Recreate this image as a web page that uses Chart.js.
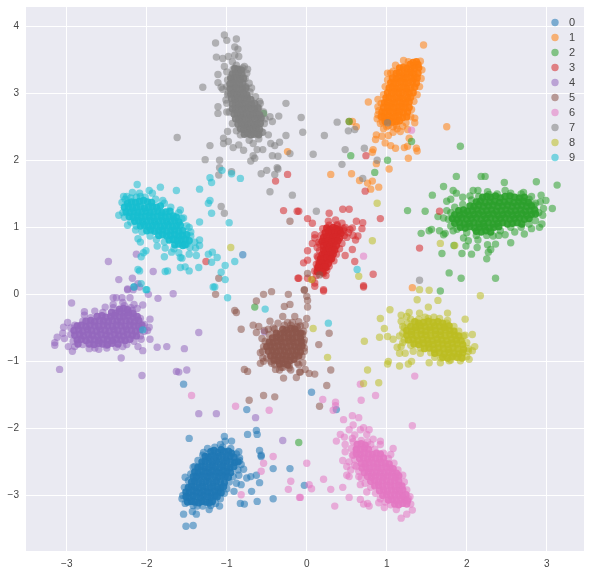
<!DOCTYPE html>
<html>
<head>
<meta charset="utf-8">
<style>
  html, body { margin: 0; padding: 0; background: #fff; }
  canvas { display: block; }
</style>
<script src="https://cdn.jsdelivr.net/npm/chart.js@4/dist/chart.umd.min.js"></script>
</head>
<body>
<canvas id="chart" width="590" height="575"></canvas>
<script>
const labels = ["0", "1", "2", "3", "4", "5", "6", "7", "8", "9"];
const xTicks = [-3, -2, -1, 0, 1, 2, 3];
const yTicks = [-3, -2, -1, 0, 1, 2, 3, 4];

// spreadN: the loose points around each blob, coreN: the saturated middle of it
const spread0 = [
[-1.54,-1.34],[-.75,-1.72],[-.63,-2.03],[-.62,-2.09],[-.74,-2.09],[-1.47,-2.15],[-1.03,-2.12],[-.94,-2.19],[-1.08,-2.24],[-1.02,-2.19],[-.59,-2.33],[-.57,-2.40],[-.57,-2.42],[-.85,-2.35],[-.84,-2.48],[-.42,-2.6],[-.21,-2.6],[-.79,-2.61],[-.63,-2.70],[-.70,-2.72],[-.75,-2.74],[-.59,-2.81],[-.85,-2.70],[-.82,-2.84],[-.88,-2.82],[-.69,-2.94],[-.91,-2.94],[-.42,-3.05],[-.62,-3.09],[-.83,-3.12],[-.78,-3.13],[-1.52,-2.73],[-1.40,-2.57],[-1.29,-2.36],[-1.56,-3.05],[-1.54,-3.28],[-1.38,-3.28],[-1.43,-3.24],[-1.51,-3.46],[-1.42,-3.45],[-1.22,-3.21],[-1.09,-3.16],[-1.37,-3.16],[.06,-1.46],[.37,-1.72],[-.03,-2.85],[-.80,.59],[-2.16,.11],
[-1.24,-2.30],[-1.15,-2.28],[-1.05,-2.28],[-.95,-2.30],[-.88,-2.38],[-.84,-2.44],[-.82,-2.54],[-.86,-2.62],[-.92,-2.72],[-.97,-2.80],[-1.0,-2.90],[-1.03,-2.97],[-1.08,-3.05],[-1.14,-3.12],[-1.20,-3.15],[-1.30,-3.16],[-1.42,-3.15],[-1.52,-3.12],[-1.55,-3.0],[-1.53,-2.88],[-1.48,-2.78],[-1.45,-2.68],[-1.42,-2.58],[-1.36,-2.48],[-1.30,-2.40]
];
const core0 = [
[-1.20,-2.35],[-1.16,-2.33],[-1.11,-2.36],[-1.07,-2.32],[-1.03,-2.35],[-.98,-2.34],[-.94,-2.37],
[-1.27,-2.42],[-1.23,-2.43],[-1.19,-2.41],[-1.14,-2.43],[-1.10,-2.42],[-1.05,-2.41],[-1.01,-2.44],[-.96,-2.42],[-.91,-2.43],
[-1.31,-2.50],[-1.27,-2.49],[-1.22,-2.50],[-1.18,-2.51],[-1.13,-2.49],[-1.09,-2.50],[-1.04,-2.51],[-1.00,-2.49],[-.95,-2.50],[-.90,-2.51],[-.86,-2.50],
[-1.36,-2.58],[-1.32,-2.57],[-1.27,-2.58],[-1.23,-2.59],[-1.18,-2.57],[-1.14,-2.58],[-1.09,-2.59],[-1.05,-2.57],[-1.00,-2.58],[-.96,-2.59],[-.91,-2.57],
[-1.40,-2.65],[-1.36,-2.66],[-1.31,-2.64],[-1.27,-2.65],[-1.22,-2.66],[-1.18,-2.64],[-1.13,-2.65],[-1.09,-2.66],[-1.04,-2.64],[-1.00,-2.65],[-.95,-2.66],
[-1.42,-2.72],[-1.38,-2.73],[-1.33,-2.71],[-1.29,-2.72],[-1.24,-2.73],[-1.20,-2.71],[-1.15,-2.72],[-1.11,-2.73],[-1.06,-2.71],[-1.02,-2.72],[-.98,-2.73],
[-1.44,-2.80],[-1.40,-2.79],[-1.35,-2.80],[-1.31,-2.81],[-1.26,-2.79],[-1.22,-2.80],[-1.17,-2.81],[-1.13,-2.79],[-1.08,-2.80],[-1.03,-2.81],
[-1.48,-2.88],[-1.44,-2.87],[-1.39,-2.88],[-1.35,-2.89],[-1.30,-2.87],[-1.26,-2.88],[-1.21,-2.89],[-1.17,-2.87],[-1.12,-2.88],[-1.08,-2.89],[-1.04,-2.87],
[-1.51,-2.95],[-1.47,-2.96],[-1.42,-2.94],[-1.38,-2.95],[-1.33,-2.96],[-1.29,-2.94],[-1.24,-2.95],[-1.20,-2.96],[-1.15,-2.94],[-1.11,-2.95],[-1.07,-2.96],
[-1.51,-3.02],[-1.47,-3.03],[-1.42,-3.01],[-1.38,-3.02],[-1.33,-3.03],[-1.29,-3.01],[-1.24,-3.02],[-1.20,-3.03],[-1.15,-3.01],[-1.12,-3.02],
[-1.49,-3.10],[-1.44,-3.09],[-1.40,-3.10],[-1.35,-3.11],[-1.31,-3.09],[-1.26,-3.10],[-1.22,-3.11],[-1.18,-3.09]
];
const spread1 = [
[1.46,3.72],[1.21,3.49],[1.42,3.48],[1.01,3.30],[1.08,3.33],[.77,2.87],[.89,2.91],[.89,2.80],[.89,2.68],[1.35,2.63],[1.35,2.56],[.53,2.58],[.57,2.58],[.62,2.50],[1.75,2.50],[.87,2.38],[.86,2.31],[.94,2.36],[1.02,2.37],[.96,2.47],[1.08,2.42],[1.17,2.43],[1.26,2.46],[1.20,2.51],[1.28,2.33],[.98,2.26],[1.05,2.22],[1.11,2.18],[1.22,2.19],[1.26,2.21],[1.37,2.18],[1.38,2.14],[1.27,2.03],[.83,2.16],[.82,2.12],[.87,1.95],[1.03,1.87],[.30,1.79],[.56,1.80],[.66,1.70],[.76,1.66],[.82,1.69],[.90,1.60],[.80,1.57],[1.32,.10],[-.24,2.13],[1.02,2.52],[1.08,2.50],[1.13,2.47],[.95,2.57],
[1.27,3.47],[1.11,3.42],[1.05,3.30],[1.01,3.20],[.98,3.10],[.96,2.98],[.93,2.85],[.90,2.74],[.88,2.62],[.92,2.55],[1.44,3.35],[1.43,3.22],[1.41,3.10],[1.38,2.98],[1.34,2.88],[1.31,2.76],[1.30,2.65],[1.24,2.56],[1.12,2.52],[1.0,2.50]
];
const core1 = [
[1.33,3.46],[1.37,3.47],[1.29,3.43],[1.34,3.41],[1.39,3.43],
[1.16,3.38],[1.21,3.39],[1.25,3.37],[1.30,3.36],[1.35,3.37],[1.40,3.38],
[1.12,3.30],[1.16,3.31],[1.21,3.29],[1.25,3.30],[1.30,3.31],[1.34,3.29],[1.39,3.30],
[1.07,3.23],[1.12,3.22],[1.16,3.24],[1.21,3.22],[1.25,3.23],[1.30,3.24],[1.34,3.22],[1.38,3.23],
[1.05,3.16],[1.09,3.15],[1.14,3.16],[1.18,3.17],[1.23,3.15],[1.27,3.16],[1.32,3.17],[1.37,3.15],
[1.03,3.08],[1.07,3.09],[1.12,3.07],[1.16,3.08],[1.21,3.09],[1.25,3.07],[1.30,3.08],[1.35,3.09],
[1.01,3.01],[1.06,3.00],[1.10,3.02],[1.15,3.00],[1.19,3.01],[1.24,3.02],[1.28,3.00],[1.33,3.01],
[.99,2.93],[1.03,2.94],[1.08,2.92],[1.12,2.93],[1.17,2.94],[1.21,2.92],[1.26,2.93],[1.30,2.94],
[.97,2.86],[1.01,2.87],[1.06,2.85],[1.10,2.86],[1.15,2.87],[1.19,2.85],[1.24,2.86],[1.28,2.87],
[.96,2.79],[1.01,2.78],[1.05,2.80],[1.10,2.78],[1.14,2.79],[1.19,2.80],[1.23,2.78],[1.28,2.79],
[.94,2.72],[.98,2.71],[1.03,2.73],[1.07,2.71],[1.12,2.72],[1.16,2.73],[1.21,2.71],[1.26,2.72],
[.93,2.65],[.97,2.64],[1.02,2.66],[1.06,2.64],[1.11,2.65],[1.15,2.66],[1.20,2.64],[1.25,2.65],
[.98,2.58],[1.03,2.59],[1.07,2.57],[1.12,2.58],[1.16,2.59]
];
const spread2 = [
[1.92,2.21],[1.31,2.28],[.55,2.07],[1.01,2.0],[.85,1.82],[.53,2.58],[1.87,1.76],[2.18,1.76],[2.23,1.76],[2.47,1.67],[2.87,1.68],[3.13,1.63],[1.71,1.61],[1.57,1.48],[1.83,1.55],[1.87,1.51],[2.08,1.55],[2.14,1.55],[2.26,1.53],[2.48,1.55],[2.71,1.52],[2.81,1.46],[2.93,1.48],[2.99,1.40],[3.07,1.28],[1.75,1.39],[1.26,1.25],[1.48,1.24],[1.64,1.16],[1.71,1.14],[1.75,1.25],[2.96,1.28],[2.95,1.18],[2.94,1.05],[2.91,1.0],[2.81,.98],[1.43,.91],[1.53,.95],[1.56,.97],[1.66,.95],[1.71,.89],[1.73,.91],[1.83,.95],[1.96,.84],[2.02,.80],[2.14,.81],[2.33,.87],[2.36,.75],[2.48,.89],[2.55,.77],[1.99,.72],[2.13,.70],[2.26,.74],[2.30,.67],[1.84,.73],[1.69,.61],[1.94,.61],[2.06,.60],[2.27,.63],[2.25,.53],[1.78,.32],[1.93,.24],[2.36,.24],[1.67,.05],[-.54,2.70],[-.65,-.19],[-.10,-2.21],[1.80,1.42],[1.95,1.45],[2.04,1.47],[2.92,1.38],[2.86,1.36],[2.40,.88],[2.60,.93],[2.72,.90],
[2.15,1.46],[2.06,1.41],[1.95,1.34],[1.85,1.30],[1.80,1.22],[1.77,1.12],[1.80,1.02],[1.88,.97],[2.0,.92],[2.12,.88],[2.25,.88],[2.42,.95],[2.55,1.0],[2.68,1.0],[2.78,1.05],[2.86,1.10],[2.90,1.22],[2.84,1.33],[2.78,1.42],[2.68,1.50],[2.55,1.51],[2.38,1.50],[2.28,1.49]
];
const core2 = [
[2.20,1.45],[2.25,1.46],[2.30,1.45],[2.36,1.47],[2.42,1.44],[2.48,1.46],[2.54,1.47],[2.60,1.45],[2.66,1.44],[2.72,1.45],
[2.12,1.38],[2.17,1.39],[2.23,1.37],[2.29,1.38],[2.35,1.39],[2.41,1.37],[2.47,1.38],[2.53,1.39],[2.59,1.37],[2.65,1.38],[2.71,1.39],[2.77,1.37],
[2.04,1.32],[2.09,1.31],[2.15,1.33],[2.21,1.31],[2.27,1.32],[2.33,1.33],[2.39,1.31],[2.45,1.32],[2.51,1.33],[2.57,1.31],[2.63,1.32],[2.69,1.33],[2.75,1.31],[2.81,1.32],
[1.90,1.25],[1.96,1.26],[2.01,1.24],[2.07,1.25],[2.13,1.26],[2.19,1.24],[2.25,1.25],[2.31,1.26],[2.37,1.24],[2.43,1.25],[2.49,1.26],[2.55,1.24],[2.61,1.25],[2.67,1.26],[2.73,1.24],[2.79,1.25],[2.85,1.26],
[1.85,1.19],[1.91,1.18],[1.97,1.20],[2.03,1.18],[2.09,1.19],[2.15,1.20],[2.21,1.18],[2.27,1.19],[2.33,1.20],[2.39,1.18],[2.45,1.19],[2.51,1.20],[2.57,1.18],[2.63,1.19],[2.69,1.20],[2.75,1.18],[2.81,1.19],[2.86,1.20],
[1.82,1.13],[1.88,1.12],[1.94,1.14],[2.00,1.12],[2.06,1.13],[2.12,1.14],[2.18,1.12],[2.24,1.13],[2.30,1.14],[2.36,1.12],[2.42,1.13],[2.48,1.14],[2.54,1.12],[2.60,1.13],[2.66,1.14],[2.72,1.12],[2.78,1.13],
[1.85,1.06],[1.91,1.07],[1.97,1.05],[2.03,1.06],[2.09,1.07],[2.15,1.05],[2.21,1.06],[2.27,1.07],[2.33,1.05],[2.39,1.06],[2.45,1.07],[2.51,1.05],[2.57,1.06],[2.63,1.07],[2.69,1.05],
[1.92,1.00],[1.98,.99],[2.04,1.01],[2.10,.99],[2.16,1.00],[2.22,1.01],[2.28,.99],[2.34,1.00],[2.40,1.01],
[2.12,.94],[2.18,.93],[2.24,.95],[2.30,.93]
];
const spread3 = [
[.45,1.27],[.53,1.27],[.28,1.21],[.01,1.13],[.07,1.06],[-.1,1.24],[.27,1.09],[.36,1.11],[.44,1.06],[.62,1.09],[.70,1.07],[.69,.98],[.57,.99],[.48,1.0],[.64,.87],[.61,.81],[.58,.88],[.5,.85],[.10,.89],[.10,.84],[.07,.76],[.01,.65],[.57,.67],[.48,.58],[.60,.49],[.13,.57],[.01,.51],[-.04,.47],[.15,.47],[.14,.41],[.21,.31],[-.1,.24],[.01,.24],[.07,.22],[.10,.17],[.21,.07],[.83,.30],[.71,.13],[.92,1.13],[.73,1.54],[.74,2.07],[1.66,1.24],[1.41,.69],[.10,.12],[.21,.05],[.71,.11],[-.24,1.79],[-.39,1.69],[-.29,1.25],[-.12,1.24],[-1.26,.49],[-.11,.24],[.38,1.02],[.46,.95],[.52,.92],[.54,.97],[.16,.75],[.13,.70],
[.20,.98],[.18,.88],[.15,.78],[.16,.65],[.14,.55],[.12,.45],[.10,.35],[.12,.28],[.24,.28],[.25,.36],[.28,.42],[.34,.50],[.37,.60],[.41,.68],[.44,.76],[.47,.88],[.46,.98],[.38,1.04],[.28,1.03]
];
const core3 = [
[.25,.99],[.29,.97],[.33,1.0],[.37,.98],[.41,.96],
[.23,.92],[.27,.93],[.31,.91],[.35,.92],[.39,.93],[.43,.91],
[.21,.85],[.25,.86],[.29,.84],[.33,.85],[.37,.86],[.41,.84],
[.19,.79],[.23,.78],[.27,.80],[.31,.78],[.35,.79],[.39,.80],
[.21,.72],[.25,.73],[.29,.71],[.33,.72],[.37,.73],
[.21,.66],[.24,.65],[.28,.67],[.32,.65],[.35,.66],
[.19,.59],[.22,.60],[.26,.58],[.30,.59],[.33,.60],
[.17,.53],[.21,.52],[.25,.54],[.29,.52],[.31,.53],
[.16,.46],[.19,.47],[.23,.45],[.27,.46],
[.14,.40],[.18,.39],[.22,.41],[.24,.40],
[.13,.34],[.17,.35],[.20,.33]
];
const spread4 = [
[-2.94,-.13],[-3.09,-1.12],[-3.15,-.72],[-3.15,-.76],[-3.12,-.64],[-3.04,-.49],[-3.05,-.58],[-3.03,-.66],[-2.99,-.42],[-2.98,-.78],[-2.93,-.85],[-2.72,-.81],[-2.78,-.26],[-2.78,-.31],[-2.65,-.25],[-2.52,-.19],[-2.42,-.05],[-2.38,-.05],[-2.31,-.05],[-2.24,.07],[-2.21,-.05],[-2.17,.07],[-2.09,.11],[-1.98,0],[-1.86,-.06],[-1.67,.01],[-2.16,-.15],[-2.05,-.16],[-2.12,-.21],[-1.96,-.37],[-1.97,-.49],[-1.99,-.54],[-1.96,-.67],[-2.11,-.78],[-2.05,-.84],[-2.07,-.67],[-1.87,-.79],[-1.75,-.78],[-1.53,-.81],[-1.35,-.57],[-2.32,-.95],[-2.06,-1.21],[-1.63,-1.15],[-1.60,-1.16],[-1.50,-1.13],[-1.35,-1.78],[-1.13,-1.78],[-.64,-1.84],[-.30,-2.18],[-.53,-.56],[-2.48,.49],[-2.35,.22],[-2.18,.24],[-2.13,.60],[-1.92,.34],[-2.24,.08],[-2.11,.16],[-2.60,-.82],[-2.50,-.80],[-2.30,-.78],[-2.42,-.15],[-2.30,-.12],[-2.20,-.20],
[-2.95,-.50],[-2.95,-.60],[-2.92,-.70],[-2.90,-.46],[-2.80,-.40],[-2.70,-.35],[-2.55,-.27],[-2.42,-.20],[-2.28,-.17],[-2.18,-.24],[-2.08,-.36],[-2.03,-.45],[-2.03,-.55],[-2.08,-.62],[-2.16,-.70],[-2.25,-.75],[-2.38,-.79],[-2.50,-.76],[-2.65,-.80],[-2.80,-.75],[-2.90,-.78]
];
const core4 = [
[-2.34,-.22],[-2.29,-.21],[-2.24,-.23],[-2.44,-.27],[-2.39,-.28],[-2.34,-.26],[-2.28,-.28],[-2.23,-.27],[-2.17,-.29],
[-2.62,-.33],[-2.56,-.32],[-2.51,-.34],[-2.45,-.33],[-2.40,-.32],[-2.34,-.34],[-2.29,-.33],[-2.23,-.32],[-2.17,-.34],[-2.12,-.33],
[-2.76,-.40],[-2.70,-.39],[-2.65,-.41],[-2.59,-.39],[-2.54,-.40],[-2.48,-.41],[-2.43,-.39],[-2.37,-.40],[-2.32,-.41],[-2.26,-.39],[-2.21,-.40],[-2.15,-.41],[-2.10,-.39],
[-2.87,-.47],[-2.82,-.46],[-2.76,-.48],[-2.71,-.46],[-2.65,-.47],[-2.60,-.48],[-2.54,-.46],[-2.49,-.47],[-2.43,-.48],[-2.38,-.46],[-2.32,-.47],[-2.27,-.48],[-2.21,-.46],[-2.16,-.47],[-2.10,-.48],[-2.06,-.46],
[-2.91,-.54],[-2.85,-.53],[-2.80,-.55],[-2.74,-.53],[-2.69,-.54],[-2.63,-.55],[-2.58,-.53],[-2.52,-.54],[-2.47,-.55],[-2.41,-.53],[-2.36,-.54],[-2.30,-.55],[-2.25,-.53],[-2.19,-.54],[-2.14,-.55],[-2.08,-.53],
[-2.90,-.61],[-2.84,-.60],[-2.79,-.62],[-2.73,-.60],[-2.68,-.61],[-2.62,-.62],[-2.57,-.60],[-2.51,-.61],[-2.46,-.62],[-2.40,-.60],[-2.35,-.61],[-2.29,-.62],[-2.24,-.60],[-2.18,-.61],[-2.13,-.62],
[-2.87,-.68],[-2.82,-.67],[-2.76,-.69],[-2.71,-.67],[-2.65,-.68],[-2.60,-.69],[-2.54,-.67],[-2.49,-.68],[-2.43,-.69],[-2.38,-.67],[-2.32,-.68],[-2.27,-.69],[-2.21,-.67],
[-2.86,-.74],[-2.72,-.74],[-2.66,-.75],[-2.60,-.73],[-2.55,-.74],[-2.49,-.75],[-2.43,-.73],[-2.36,-.74]
];
const spread5 = [
[-.44,.04],[-.54,0],[-.23,0],[-.63,-.10],[-.28,-.18],[-.21,-.15],[-.90,-.24],[-.88,-.27],[-.82,-.52],[-1.14,0],[-.67,-.46],[-.60,-.48],[-.63,-.57],[-.53,-.54],[-.46,-.40],[-.30,-.33],[-.15,-.33],[-.36,-.43],[-.78,-1.12],[-.74,-1.15],[-.58,-1.03],[-.54,-1.0],[-.29,-1.25],[-.13,-1.24],[-.08,-1.16],[-.20,-1.13],[-.39,-1.12],[-.34,-1.13],[-.72,-1.58],[-.54,-1.51],[-.40,-1.53],[-.03,.06],[0,-.03],[.01,-.09],[.01,-.19],[0,-.36],[-.02,-.46],[.28,-.58],[.15,-.75],[-.04,-.72],[.30,-1.13],[.1,-1.19],[.03,-1.18],[-.02,-1.12],[-.05,-1.02],[.25,-1.36],[.16,-1.67],[-.10,-.41],[-.09,-1.16],[.01,.31],[-.03,.07],[.16,.29],[-.21,1.09],[-1.10,.24],[-.56,-.66],[-.54,-.78],[-.58,-.87],[-.55,-.95],[-.04,-.55],[-.03,-.85],[-.05,-.60],[-.08,-.47],[-.24,-.42],[-.18,-.42],[-.42,-.50],[-.48,-.52],[-.10,-1.05],[-.22,-1.06],[-.30,-1.09],[-.44,-1.03],
[-.28,-.46],[-.20,-.46],[-.12,-.48],[-.40,-.52],[-.47,-.60],[-.52,-.70],[-.55,-.85],[-.50,-.95],[-.45,-1.0],[-.40,-1.05],[-.32,-1.09],[-.22,-1.10],[-.12,-1.02],[-.06,-.92],[-.03,-.80],[-.03,-.68],[-.06,-.58],[-.12,-.50]
];
const core5 = [
[-.30,-.52],[-.25,-.53],[-.20,-.51],[-.15,-.52],
[-.38,-.58],[-.33,-.59],[-.28,-.57],[-.23,-.58],[-.18,-.59],[-.13,-.57],[-.08,-.58],
[-.43,-.65],[-.38,-.64],[-.33,-.66],[-.28,-.64],[-.23,-.65],[-.18,-.66],[-.13,-.64],[-.08,-.65],
[-.47,-.71],[-.42,-.72],[-.37,-.70],[-.32,-.71],[-.27,-.72],[-.22,-.70],[-.17,-.71],[-.12,-.72],[-.07,-.70],
[-.50,-.78],[-.45,-.77],[-.40,-.79],[-.35,-.77],[-.30,-.78],[-.25,-.79],[-.20,-.77],[-.15,-.78],[-.10,-.79],[-.06,-.77],
[-.48,-.85],[-.43,-.84],[-.38,-.86],[-.33,-.84],[-.28,-.85],[-.23,-.86],[-.18,-.84],[-.13,-.85],[-.08,-.86],
[-.45,-.92],[-.40,-.91],[-.35,-.93],[-.30,-.91],[-.25,-.92],[-.20,-.93],[-.15,-.91],[-.10,-.92],
[-.41,-.98],[-.36,-.99],[-.31,-.97],[-.26,-.98],[-.21,-.99],[-.16,-.97],
[-.34,-1.04],[-.29,-1.03],[-.24,-1.05]
];
const spread6 = [
[1.35,-1.22],[.67,-1.34],[.86,-1.51],[.68,-1.58],[.20,-1.57],[.36,-1.61],[.36,-1.66],[.33,-1.73],[.57,-1.81],[.65,-1.84],[.46,-1.87],[1.32,-1.96],[.58,-1.95],[.71,-1.99],[.78,-2.02],[.53,-2.02],[.67,-2.02],[.42,-2.09],[.47,-2.13],[.60,-2.10],[.75,-2.09],[.37,-2.19],[.57,-2.15],[.83,-2.16],[.92,-2.19],[.92,-2.24],[.48,-2.24],[.48,-2.35],[1.08,-2.30],[1.05,-2.39],[.45,-2.48],[.50,-2.57],[.53,-2.50],[.50,-2.70],[.53,-2.72],[.67,-2.84],[.45,-2.88],[.21,-2.76],[.30,-2.91],[0,-2.52],[.03,-2.84],[.06,-2.90],[-.08,-3.03],[.53,-3.03],[.67,-3.06],[.71,-3.13],[.76,-3.12],[.78,-3.16],[.90,-3.11],[.35,-3.16],[.97,-3.18],[1.12,-3.21],[1.25,-3.28],[1.32,-3.22],[1.18,-3.34],[.75,-2.95],[1.27,-3.05],[-1.44,-1.51],[-.89,-1.67],[-.47,-1.73],[-.42,-2.42],[-.54,-2.52],[-.57,-2.64],[-.2,-2.79],[-.23,-2.91],[-.09,-3.03],[-.82,-2.99],[1.31,2.45],[.71,.57],[.58,-2.40],[.60,-2.55],[.55,-2.62],[.62,-2.32],[.65,-2.72],
[.58,-2.20],[.68,-2.18],[.76,-2.20],[.56,-2.30],[.57,-2.40],[.60,-2.47],[.62,-2.57],[.65,-2.64],[.68,-2.74],[.73,-2.82],[.80,-2.88],[.86,-2.97],[.92,-3.05],[.98,-3.10],[1.05,-3.14],[1.30,-3.13],[1.29,-3.02],[1.25,-2.92],[1.22,-2.80],[1.20,-2.70],[1.14,-2.62],[1.09,-2.52],[1.02,-2.45],[.96,-2.37],[.85,-2.31],[.80,-2.24]
];
const core6 = [
[.63,-2.24],[.68,-2.23],[.73,-2.25],[.62,-2.31],[.67,-2.32],[.72,-2.30],[.77,-2.31],
[.62,-2.38],[.67,-2.39],[.72,-2.37],[.77,-2.38],[.82,-2.39],[.87,-2.37],[.92,-2.38],
[.66,-2.45],[.71,-2.44],[.76,-2.46],[.81,-2.44],[.86,-2.45],[.91,-2.46],[.96,-2.44],
[.68,-2.52],[.73,-2.53],[.78,-2.51],[.83,-2.52],[.88,-2.53],[.93,-2.51],[.98,-2.52],[1.03,-2.53],
[.69,-2.59],[.74,-2.58],[.79,-2.60],[.84,-2.58],[.89,-2.59],[.94,-2.60],[.99,-2.58],[1.04,-2.59],[1.08,-2.60],
[.72,-2.66],[.77,-2.65],[.82,-2.67],[.87,-2.65],[.92,-2.66],[.97,-2.67],[1.02,-2.65],[1.07,-2.66],[1.12,-2.67],
[.76,-2.72],[.81,-2.73],[.86,-2.71],[.91,-2.72],[.96,-2.73],[1.01,-2.71],[1.06,-2.72],[1.11,-2.73],[1.15,-2.71],
[.80,-2.79],[.85,-2.78],[.90,-2.80],[.95,-2.78],[1.00,-2.79],[1.05,-2.80],[1.10,-2.78],[1.15,-2.79],
[.85,-2.86],[.90,-2.85],[.95,-2.87],[1.00,-2.85],[1.05,-2.86],[1.10,-2.87],[1.15,-2.85],[1.19,-2.86],
[.91,-2.93],[.96,-2.92],[1.01,-2.94],[1.06,-2.92],[1.11,-2.93],[1.16,-2.94],[1.20,-2.92],
[.95,-3.00],[1.00,-2.99],[1.05,-3.01],[1.10,-2.99],[1.15,-3.00],[1.20,-3.01],[1.24,-2.99],
[1.02,-3.07],[1.07,-3.06],[1.12,-3.08],[1.17,-3.06],[1.22,-3.07],[1.26,-3.08],
[1.10,-3.13],[1.15,-3.14],[1.20,-3.12],[1.25,-3.13]
];
const spread7 = [
[-1.03,3.87],[-.88,3.81],[-1.00,3.79],[-1.14,3.75],[-.90,3.69],[-.86,3.66],[-1.13,3.54],[-1.05,3.52],[-.98,3.55],[-.90,3.57],[-.85,3.55],[-.93,3.47],[-.88,3.42],[-1.03,3.40],[-.78,3.40],[-.74,3.36],[-1.11,3.28],[-1.0,3.32],[-1.11,3.16],[-1.07,3.09],[-1.05,3.06],[-1.30,3.09],[-1.11,2.80],[-1.11,2.70],[-1.0,2.72],[-1.01,2.90],[-.69,3.08],[-.59,2.88],[-.26,2.85],[-.46,2.65],[-.35,2.66],[-.43,2.58],[-.07,2.64],[-.05,2.42],[.22,2.37],[.38,2.57],[.52,2.44],[.6,2.46],[.48,2.16],[.72,2.18],[.08,2.09],[.44,1.94],[.88,2.00],[.7,1.73],[1.01,2.56],[.12,1.24],[1.41,.21],[-1.62,2.34],[-1.21,2.22],[-1.27,2.01],[-1.09,2.00],[-1.09,1.89],[-1.10,1.78],[-.94,1.83],[-.70,1.99],[-.65,2.03],[-.67,2.07],[-.57,1.80],[-.50,1.85],[-.40,1.79],[-.37,1.89],[-.36,1.87],[-.46,1.53],[-.18,1.48],[-1.07,1.31],[-1.03,1.21],[-.43,2.07],[-.36,2.06],[-.21,2.10],[-.26,2.37],[-.34,2.27],[-.40,2.22],[-.45,2.25],[-.62,2.16],[-.55,2.16],[-.79,2.15],[-.92,2.19],[-1.04,2.25],[-1.04,2.33],[-.99,2.43],[-.98,2.28],[-.85,2.23],[-.67,2.25],[-.48,2.38],[-.56,2.42],[-.6,2.78],[-.52,2.62],[-.95,3.24],[-.77,3.22],[-.76,3.10],[-.99,2.98],
[-.99,3.2],[-1.0,3.1],[-.98,3.0],[-1.0,2.85],[-.97,2.72],[-.93,2.55],[-.88,2.44],[-.83,2.38],[-.75,3.30],[-.72,3.15],[-.71,3.02],[-.64,2.95],[-.58,2.85],[-.54,2.72],[-.53,2.55],[-.55,2.42],[-.60,2.32],[-.72,2.30],[-.80,3.38],[-.92,3.36]
];
const core7 = [
[-.90,3.37],[-.86,3.36],[-.82,3.35],
[-.93,3.29],[-.89,3.30],[-.85,3.28],[-.81,3.29],
[-.95,3.22],[-.91,3.21],[-.87,3.23],[-.83,3.21],[-.79,3.22],
[-.96,3.14],[-.92,3.15],[-.88,3.13],[-.84,3.14],[-.80,3.15],
[-.96,3.07],[-.92,3.06],[-.88,3.08],[-.84,3.06],[-.80,3.07],[-.76,3.08],
[-.95,2.99],[-.91,3.00],[-.87,2.98],[-.83,2.99],[-.79,3.00],[-.75,2.98],
[-.94,2.92],[-.90,2.91],[-.86,2.93],[-.82,2.91],[-.78,2.92],[-.74,2.93],[-.70,2.91],
[-.93,2.84],[-.89,2.85],[-.85,2.83],[-.81,2.84],[-.77,2.85],[-.73,2.83],[-.69,2.84],[-.65,2.85],
[-.93,2.77],[-.89,2.76],[-.85,2.78],[-.81,2.76],[-.77,2.77],[-.73,2.78],[-.69,2.76],[-.65,2.77],[-.61,2.78],
[-.91,2.69],[-.87,2.70],[-.83,2.68],[-.79,2.69],[-.75,2.70],[-.71,2.68],[-.67,2.69],[-.63,2.70],[-.59,2.68],
[-.89,2.62],[-.85,2.61],[-.81,2.63],[-.77,2.61],[-.73,2.62],[-.69,2.63],[-.65,2.61],[-.61,2.62],[-.57,2.63],
[-.86,2.54],[-.82,2.55],[-.78,2.53],[-.74,2.54],[-.70,2.55],[-.66,2.53],[-.62,2.54],[-.58,2.55],
[-.83,2.47],[-.79,2.46],[-.75,2.48],[-.71,2.46],[-.67,2.47],[-.63,2.48],[-.59,2.46],
[-.78,2.39],[-.74,2.40],[-.70,2.38],[-.66,2.39],[-.62,2.40],[-.60,2.38]
];
const spread8 = [
[1.41,.07],[1.53,.06],[1.38,-.08],[1.64,-.09],[2.17,-.02],[1.52,-.19],[1.04,-.23],[.92,-.36],[1.18,-.31],[1.28,-.27],[1.41,-.28],[1.76,-.28],[1.25,-.33],[1.48,-.34],[1.59,-.34],[1.76,-.39],[1.98,-.37],[.97,-.51],[.91,-.64],[1.01,-.63],[1.08,-.67],[.72,-.70],[.08,-.51],[1.13,-.79],[1.18,-.78],[1.16,-.88],[1.23,-.88],[1.02,-1.0],[1.01,-1.04],[1.16,-1.07],[1.27,-1.04],[1.31,-1.0],[1.53,-1.02],[1.67,-1.02],[1.78,-.99],[2.03,-.97],[2.07,-.84],[2.10,-.78],[2.07,-.6],[2.02,-.81],[1.98,-.61],[.26,-.94],[.76,-1.13],[.71,-1.33],[.90,-1.32],[.88,1.36],[.82,.80],[.65,.27],[.06,.22],[1.67,.76],[1.85,.73],[-.95,.70],[1.18,-.40],[1.20,-.48],[1.16,-.62],[1.33,-.85],[1.42,-.88],[1.60,-.94],[1.20,-.72],
[1.30,-.37],[1.40,-.37],[1.52,-.36],[1.66,-.36],[1.75,-.43],[1.84,-.48],[1.90,-.55],[1.96,-.62],[2.0,-.72],[2.02,-.85],[2.0,-.93],[1.92,-.99],[1.80,-.98],[1.68,-.95],[1.55,-.87],[1.42,-.80],[1.30,-.76],[1.22,-.68],[1.20,-.58],[1.22,-.50],[1.26,-.43]
];
const core8 = [
[1.35,-.41],[1.40,-.43],[1.46,-.42],[1.52,-.40],[1.58,-.42],[1.64,-.41],[1.70,-.43],
[1.30,-.48],[1.36,-.49],[1.42,-.47],[1.48,-.48],[1.54,-.49],[1.60,-.47],[1.66,-.48],[1.72,-.49],[1.78,-.47],
[1.25,-.54],[1.31,-.55],[1.37,-.53],[1.43,-.54],[1.49,-.55],[1.55,-.53],[1.61,-.54],[1.67,-.55],[1.73,-.53],[1.79,-.54],[1.84,-.55],
[1.25,-.61],[1.31,-.60],[1.37,-.62],[1.43,-.60],[1.49,-.61],[1.55,-.62],[1.61,-.60],[1.67,-.61],[1.73,-.62],[1.79,-.60],[1.85,-.61],[1.90,-.62],
[1.27,-.68],[1.33,-.67],[1.39,-.69],[1.45,-.67],[1.51,-.68],[1.57,-.69],[1.63,-.67],[1.69,-.68],[1.75,-.69],[1.81,-.67],[1.87,-.68],[1.93,-.69],
[1.34,-.74],[1.40,-.75],[1.46,-.73],[1.52,-.74],[1.58,-.75],[1.64,-.73],[1.70,-.74],[1.76,-.75],[1.82,-.73],[1.88,-.74],[1.95,-.75],
[1.47,-.81],[1.53,-.80],[1.59,-.82],[1.65,-.80],[1.71,-.81],[1.77,-.82],[1.83,-.80],[1.89,-.81],[1.96,-.82],
[1.60,-.88],[1.66,-.87],[1.72,-.89],[1.78,-.87],[1.84,-.88],[1.90,-.89],[1.95,-.87],
[1.70,-.94],[1.76,-.95],[1.82,-.93],[1.88,-.94],[1.94,-.95]
];
const spread9 = [
[-2.12,1.64],[-1.97,1.55],[-1.83,1.60],[-1.63,1.55],[-1.34,1.57],[-1.19,1.67],[-1.21,1.74],[-1.06,1.85],[-.94,1.80],[-.83,1.73],[-1.21,1.40],[-1.23,1.36],[-1.19,1.21],[-1.34,1.08],[-.97,1.07],[-1.58,1.26],[-2.35,1.18],[-2.24,1.03],[-2.14,.96],[-2.25,1.46],[-2.18,1.52],[-2.09,1.51],[-1.93,1.51],[-1.54,1.14],[-1.47,1.0],[-1.34,.81],[-1.34,.73],[-1.39,.69],[-1.18,.63],[-1.23,.60],[-1.12,.55],[-1.19,.48],[-1.02,.43],[-.90,.49],[-1.07,.33],[-1.02,.22],[-1.17,.11],[-1.58,.40],[-1.52,.41],[-1.47,.35],[-1.35,.40],[-1.74,.35],[-1.77,.34],[-2.11,.37],[-2.09,.35],[-1.78,.56],[-2.07,.56],[-2.01,.65],[-2.04,.62],[-1.58,.55],[-1.56,.54],[-1.47,.60],[-1.38,.58],[-1.87,.72],[-1.77,.69],[-1.69,.63],[-2.07,.16],[-2.16,.11],[-2.01,.07],[-2.0,.07],[-1.15,.11],[-.99,-.05],[-.52,-.22],[-2.05,-.53],[.27,-.43],[.63,.37],[-2.29,1.46],[-2.02,1.45],[-1.80,1.40],[-2.11,.83],[-2.08,.78],[-1.60,.84],[-1.45,.93],[-1.50,.75],
[-2.31,1.37],[-2.27,1.42],[-2.20,1.44],[-2.13,1.45],[-2.08,1.46],[-1.89,1.42],[-1.78,1.36],[-1.70,1.30],[-1.60,1.22],[-1.56,1.13],[-1.50,1.02],[-1.45,.87],[-1.40,.78],[-1.46,.70],[-2.30,1.22],[-2.28,1.15],[-2.20,1.08],[-2.13,1.02],[-2.06,.93],[-1.96,.87],[-1.88,.82],[-1.78,.78],[-1.66,.68],[-1.60,.62]
];
const core9 = [
[-2.24,1.36],[-2.19,1.38],[-2.14,1.37],[-2.09,1.39],[-2.04,1.40],[-1.99,1.38],[-1.94,1.37],
[-2.28,1.30],[-2.23,1.31],[-2.18,1.29],[-2.13,1.30],[-2.08,1.31],[-2.03,1.29],[-1.98,1.30],[-1.93,1.31],[-1.88,1.30],[-1.83,1.32],
[-2.26,1.23],[-2.21,1.22],[-2.16,1.24],[-2.11,1.22],[-2.06,1.23],[-2.01,1.24],[-1.96,1.22],[-1.91,1.23],[-1.86,1.24],[-1.81,1.22],[-1.76,1.23],[-1.71,1.24],
[-2.22,1.16],[-2.17,1.15],[-2.12,1.17],[-2.07,1.15],[-2.02,1.16],[-1.97,1.17],[-1.92,1.15],[-1.87,1.16],[-1.82,1.17],[-1.77,1.15],[-1.72,1.16],[-1.67,1.17],[-1.63,1.15],
[-2.15,1.09],[-2.10,1.10],[-2.05,1.08],[-2.00,1.09],[-1.95,1.10],[-1.90,1.08],[-1.85,1.09],[-1.80,1.10],[-1.75,1.08],[-1.70,1.09],[-1.65,1.10],[-1.60,1.08],
[-2.08,1.02],[-2.03,1.03],[-1.98,1.01],[-1.93,1.02],[-1.88,1.03],[-1.83,1.01],[-1.78,1.02],[-1.73,1.03],[-1.68,1.01],[-1.63,1.02],[-1.58,1.03],
[-2.00,.95],[-1.95,.96],[-1.90,.94],[-1.85,.95],[-1.80,.96],[-1.75,.94],[-1.70,.95],[-1.65,.96],[-1.60,.94],[-1.55,.95],
[-1.85,.88],[-1.80,.89],[-1.75,.87],[-1.70,.88],[-1.65,.89],[-1.60,.87],[-1.55,.88],[-1.50,.89],
[-1.72,.81],[-1.67,.82],[-1.62,.80],[-1.57,.81],[-1.52,.82],[-1.47,.80],
[-1.65,.74],[-1.60,.75],[-1.55,.73],[-1.52,.74]
];

const spreads = [spread0, spread1, spread2, spread3, spread4, spread5, spread6, spread7, spread8, spread9];
const cores = [core0, core1, core2, core3, core4, core5, core6, core7, core8, core9];
const colors = ["#1f77b4", "#ff7f0e", "#2ca02c", "#d62728", "#9467bd", "#8c564b", "#e377c2", "#7f7f7f", "#bcbd22", "#17becf"];

function withAlpha(hex, a) {
  const n = parseInt(hex.slice(1), 16);
  return "rgba(" + (n >> 16) + "," + ((n >> 8) & 255) + "," + (n & 255) + "," + a + ")";
}

const plotBackground = {
  id: "plotBackground",
  beforeDraw(chart) {
    const { ctx, chartArea: a } = chart;
    ctx.save();
    ctx.fillStyle = "#eaeaf2";
    ctx.fillRect(a.left, a.top, a.right - a.left, a.bottom - a.top);
    ctx.restore();
  },
};

// matplotlib style legend: inside the axes, top right, marker left and text right
const legendInAxes = {
  id: "legendInAxes",
  afterLayout(chart) {
    chart.legend.left = 545.5;
    chart.legend.right = 575;
    chart.legend.top = 13;
  },
};

Chart.defaults.font.family = '"Liberation Sans", Arial, sans-serif';

new Chart(document.getElementById("chart"), {
  type: "scatter",
  data: {
    datasets: spreads.map((pts, i) => ({
      label: labels[i],
      data: pts.concat(cores[i]).map((p) => ({ x: p[0], y: p[1] })),
      // only thousands of overlapping points would saturate the blobs, so the core points are nearly solid
      backgroundColor: (ctx) => withAlpha(colors[i], ctx.dataIndex >= pts.length ? 0.92 : 0.55),
      borderWidth: 0,
      pointRadius: 3.7,
      order: spreads.length - i,
    })),
  },
  options: {
    responsive: false,
    animation: false,
    layout: { padding: { top: 7, right: 6, left: 0, bottom: 0 } },
    plugins: {
      tooltip: { enabled: false },
      legend: {
        position: "chartArea",
        align: "start",
        labels: {
          usePointStyle: true,
          boxWidth: 11,
          boxHeight: 5.2,
          padding: 4,
          textAlign: "right",
          color: "#444444",
          font: { size: 11 },
          sort: (a, b) => a.datasetIndex - b.datasetIndex,
        },
      },
    },
    scales: {
      x: {
        type: "linear",
        min: -3.51,
        max: 3.466,
        afterFit: (s) => { s.height = 24; s.paddingLeft = 0; s.paddingRight = 0; },
        afterBuildTicks: (s) => { s.ticks = xTicks.map((v) => ({ value: v })); },
        grid: { color: "#ffffff", lineWidth: 1, drawTicks: false },
        border: { display: false },
        ticks: {
          color: "#444444",
          font: { size: 10 },
          padding: 7,
          maxRotation: 0,
          callback: (v) => String(v).replace("-", "\u2212"),
        },
      },
      y: {
        type: "linear",
        min: -3.83,
        max: 4.288,
        afterFit: (s) => { s.width = 26; s.paddingTop = 0; s.paddingBottom = 0; },
        afterBuildTicks: (s) => { s.ticks = yTicks.map((v) => ({ value: v })); },
        grid: { color: "#ffffff", lineWidth: 1, drawTicks: false },
        border: { display: false },
        ticks: {
          color: "#444444",
          font: { size: 10 },
          padding: 7,
          callback: (v) => String(v).replace("-", "\u2212"),
        },
      },
    },
  },
  plugins: [plotBackground, legendInAxes],
});
</script>
</body>
</html>
